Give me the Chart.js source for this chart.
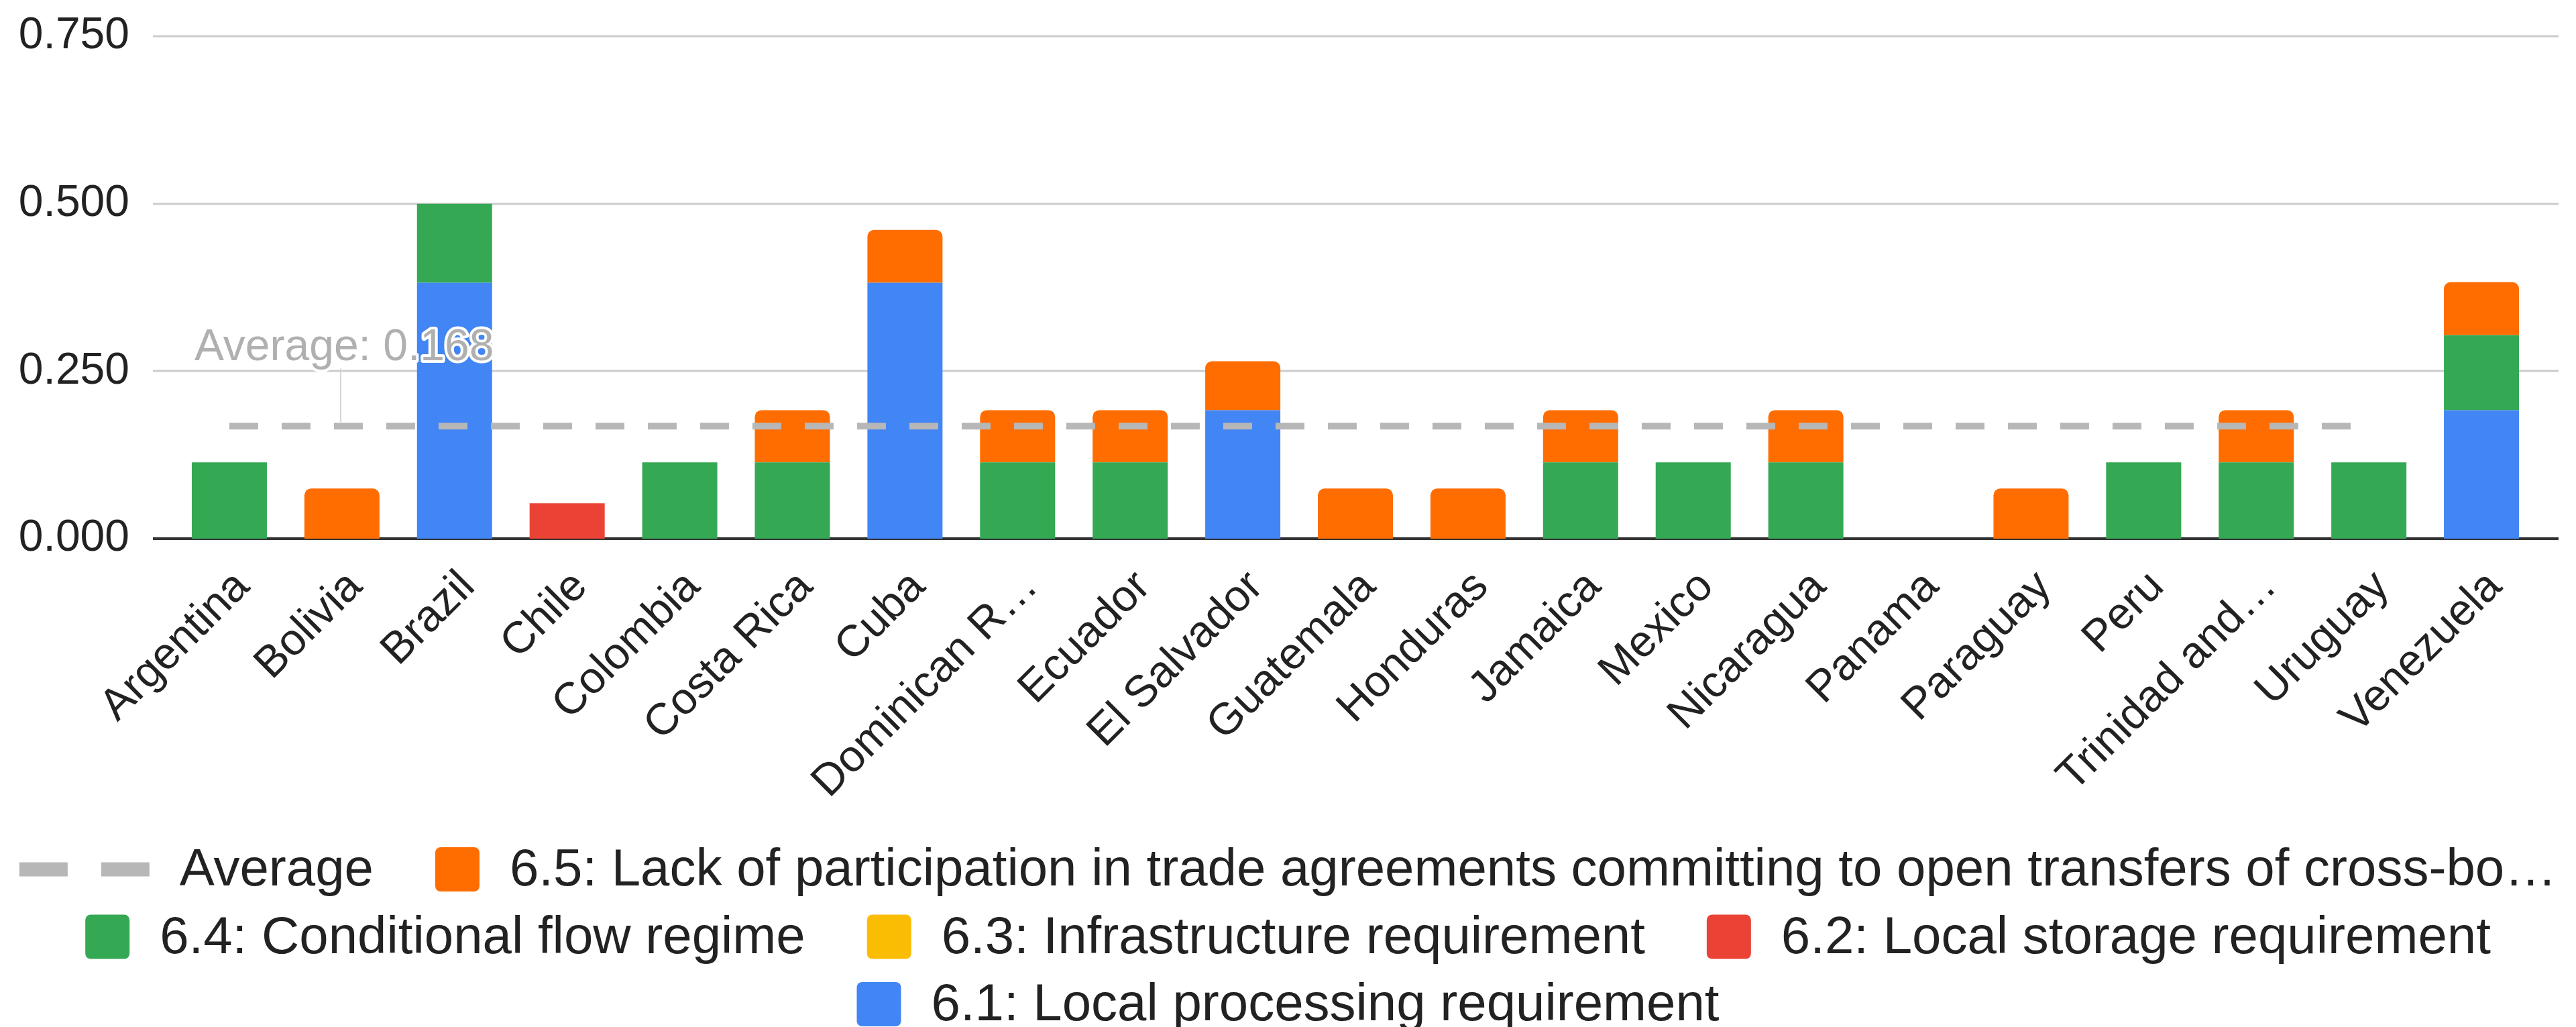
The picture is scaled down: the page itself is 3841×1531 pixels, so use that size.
<!DOCTYPE html>
<html>
<head>
<meta charset="utf-8">
<title>Data flow restrictions by country</title>
<script src="https://cdn.jsdelivr.net/npm/chart.js@4.4.1/dist/chart.umd.min.js"></script>
<style>
  html, body { margin: 0; padding: 0; background: #ffffff; }
  #wrap { position: relative; width: 3841px; height: 1531px; }
</style>
</head>
<body>
<div id="wrap"><canvas id="chart"></canvas></div>
<script>
// ---- data ----
const countries = ['Argentina', 'Bolivia', 'Brazil', 'Chile', 'Colombia', 'Costa Rica', 'Cuba',
  'Dominican R\u2026', 'Ecuador', 'El Salvador', 'Guatemala', 'Honduras', 'Jamaica', 'Mexico',
  'Nicaragua', 'Panama', 'Paraguay', 'Peru', 'Trinidad and\u2026', 'Uruguay', 'Venezuela'];

// 6.1: Local processing requirement
const localProcessing = [0, 0, 0.382, 0, 0, 0, 0.382, 0, 0, 0.192, 0, 0, 0, 0, 0, 0, 0, 0, 0, 0, 0.192];
// 6.2: Local storage requirement
const localStorageReq = [0, 0, 0, 0.053, 0, 0, 0, 0, 0, 0, 0, 0, 0, 0, 0, 0, 0, 0, 0, 0, 0];
// 6.3: Infrastructure requirement
const infrastructureReq = [0, 0, 0, 0, 0, 0, 0, 0, 0, 0, 0, 0, 0, 0, 0, 0, 0, 0, 0, 0, 0];
// 6.4: Conditional flow regime
const conditionalFlow = [0.114, 0, 0.118, 0, 0.114, 0.114, 0, 0.114, 0.114, 0, 0, 0, 0.114, 0.114,
  0.114, 0, 0, 0.114, 0.114, 0.114, 0.112];
// 6.5: Lack of participation in trade agreements ...
const tradeAgreements = [0, 0.075, 0, 0, 0, 0.078, 0.079, 0.078, 0.078, 0.073, 0.075, 0.075, 0.078, 0,
  0.078, 0, 0.075, 0, 0.078, 0, 0.079];

const averageValue = 0.168;
// the average line runs from the first country to Uruguay
const averageLine = [0.168, 0.168, 0.168, 0.168, 0.168, 0.168, 0.168, 0.168, 0.168, 0.168, 0.168,
  0.168, 0.168, 0.168, 0.168, 0.168, 0.168, 0.168, 0.168, 0.168, null];

const yTicks = [0, 0.25, 0.5, 0.75];

const seriesLabels = [
  '6.1: Local processing requirement',
  '6.2: Local storage requirement',
  '6.3: Infrastructure requirement',
  '6.4: Conditional flow regime',
  '6.5: Lack of participation in trade agreements committing to open transfers of cross-bo\u2026',
  'Average'
];
const seriesColors = ['#4285f4', '#ea4335', '#fbbc04', '#34a853', '#ff6d01', '#b7b7b7'];

const FONT = 'Arial, "Liberation Sans", Helvetica, sans-serif';

// ---- plugins ----
// horizontal grid lines that run a little past the bars on both sides
const wideGrid = {
  id: 'wideGrid',
  beforeDatasetsDraw(chart) {
    const { ctx, chartArea, scales } = chart;
    const y = scales.y;
    ctx.save();
    y.ticks.forEach(function(t) {
      const py = Math.round(y.getPixelForValue(t.value));
      ctx.strokeStyle = t.value === 0 ? '#333333' : '#cccccc';
      ctx.lineWidth = t.value === 0 ? 4 : 3;
      ctx.beginPath();
      ctx.moveTo(chartArea.left - 30, py);
      ctx.lineTo(chartArea.right + 31, py);
      ctx.stroke();
    });
    ctx.restore();
  }
};

// "Average: 0.168" annotation above the dashed line
const averageLabel = {
  id: 'averageLabel',
  afterDatasetsDraw(chart) {
    const { ctx, scales } = chart;
    const x0 = scales.x.getPixelForValue(0);
    const yA = scales.y.getPixelForValue(averageValue);
    ctx.save();
    ctx.strokeStyle = '#d6d6d6';
    ctx.lineWidth = 2;
    ctx.beginPath();
    ctx.moveTo(x0 + 166, yA - 86);
    ctx.lineTo(x0 + 166, yA - 6);
    ctx.stroke();
    ctx.font = '66px ' + FONT;
    ctx.textAlign = 'left';
    ctx.textBaseline = 'alphabetic';
    const txt = 'Average: ' + averageValue.toFixed(3);
    ctx.lineJoin = 'round';
    ctx.strokeStyle = '#ffffff';
    ctx.lineWidth = 8;
    ctx.strokeText(txt, x0 - 52, yA - 98);
    ctx.fillStyle = '#b0b0b0';
    ctx.fillText(txt, x0 - 52, yA - 98);
    ctx.restore();
  }
};

// legend drawn under the axis, centred rows like the original
const bottomLegend = {
  id: 'bottomLegend',
  afterDraw(chart) {
    const ctx = chart.ctx;
    const order = [5, 4, 3, 2, 1, 0];
    const box = 66, textGap = 45, itemGap = 92, rowH = 100.5, firstRowY = 1296;
    ctx.save();
    ctx.font = '78px ' + FONT;
    const items = order.map(function(i) {
      const ds = chart.data.datasets[i];
      const iconW = ds.type === 'line' ? 194 : box;
      return { ds: ds, iconW: iconW, w: iconW + textGap + ctx.measureText(ds.label).width };
    });
    const rows = [];
    let row = [], rowW = 0;
    const maxW = chart.width - 20;
    items.forEach(function(it) {
      const add = row.length ? itemGap + it.w : it.w;
      if (row.length && rowW + add > maxW) {
        rows.push({ items: row, w: rowW });
        row = [it];
        rowW = it.w;
      } else {
        row.push(it);
        rowW += add;
      }
    });
    rows.push({ items: row, w: rowW });

    rows.forEach(function(r, ri) {
      let x = (chart.width - r.w) / 2;
      const cy = firstRowY + ri * rowH;
      r.items.forEach(function(it) {
        const ds = it.ds;
        if (ds.type === 'line') {
          ctx.fillStyle = ds.borderColor;
          ctx.fillRect(x, cy - 10.5, 72, 21);
          ctx.fillRect(x + 122, cy - 10.5, 72, 21);
        } else {
          ctx.fillStyle = ds.backgroundColor;
          ctx.beginPath();
          ctx.roundRect(x, cy - box / 2, box, box, 8);
          ctx.fill();
        }
        ctx.fillStyle = '#222222';
        ctx.textAlign = 'left';
        ctx.textBaseline = 'alphabetic';
        ctx.fillText(ds.label, x + it.iconW + textGap, cy + 24);
        x += it.w + itemGap;
      });
    });
    ctx.restore();
  }
};

// ---- chart ----
const barSeries = [localProcessing, localStorageReq, infrastructureReq, conditionalFlow, tradeAgreements];
const datasets = barSeries.map(function(values, i) {
  return {
    type: 'bar',
    label: seriesLabels[i],
    data: values,
    backgroundColor: seriesColors[i],
    borderWidth: 0,
    borderRadius: i === 4 ? 10 : 0,
    borderSkipped: 'start',
    categoryPercentage: 1,
    barPercentage: 0.667
  };
});
datasets.push({
  type: 'line',
  label: seriesLabels[5],
  data: averageLine,
  borderColor: seriesColors[5],
  backgroundColor: seriesColors[5],
  borderWidth: 10,
  borderDash: [43, 35],
  pointRadius: 0,
  fill: false,
  stack: 'average',
  order: -1
});

new Chart(document.getElementById('chart'), {
  data: { labels: countries, datasets: datasets },
  options: {
    responsive: true,
    maintainAspectRatio: false,
    animation: false,
    devicePixelRatio: 1,
    layout: { padding: { left: 29, right: 57, top: 54, bottom: 300 } },
    plugins: {
      legend: { display: false },
      tooltip: { enabled: false }
    },
    scales: {
      x: {
        stacked: true,
        grid: { display: false },
        border: { display: false },
        // the slanted labels may hang past the y axis, don't widen the margin for them
        afterFit: function(scale) {
          scale.paddingLeft = 0;
          scale.paddingRight = 0;
        },
        ticks: {
          autoSkip: false,
          minRotation: 45,
          maxRotation: 45,
          padding: 25,
          labelOffset: 20,
          color: '#222222',
          font: { size: 66, family: FONT }
        }
      },
      y: {
        stacked: true,
        min: 0,
        max: 0.75,
        grid: { display: false, drawTicks: false },
        border: { display: false },
        afterBuildTicks: function(scale) {
          scale.ticks = yTicks.map(function(v) { return { value: v }; });
        },
        // fixed axis width: labels end 65px left of the plot
        afterFit: function(scale) {
          scale.width = 229;
          scale.paddingTop = 0;
          scale.paddingBottom = 0;
        },
        ticks: {
          padding: 65,
          color: '#222222',
          font: { size: 66, family: FONT },
          callback: function(v) { return Number(v).toFixed(3); }
        }
      }
    }
  },
  plugins: [wideGrid, averageLabel, bottomLegend]
});
</script>
</body>
</html>
